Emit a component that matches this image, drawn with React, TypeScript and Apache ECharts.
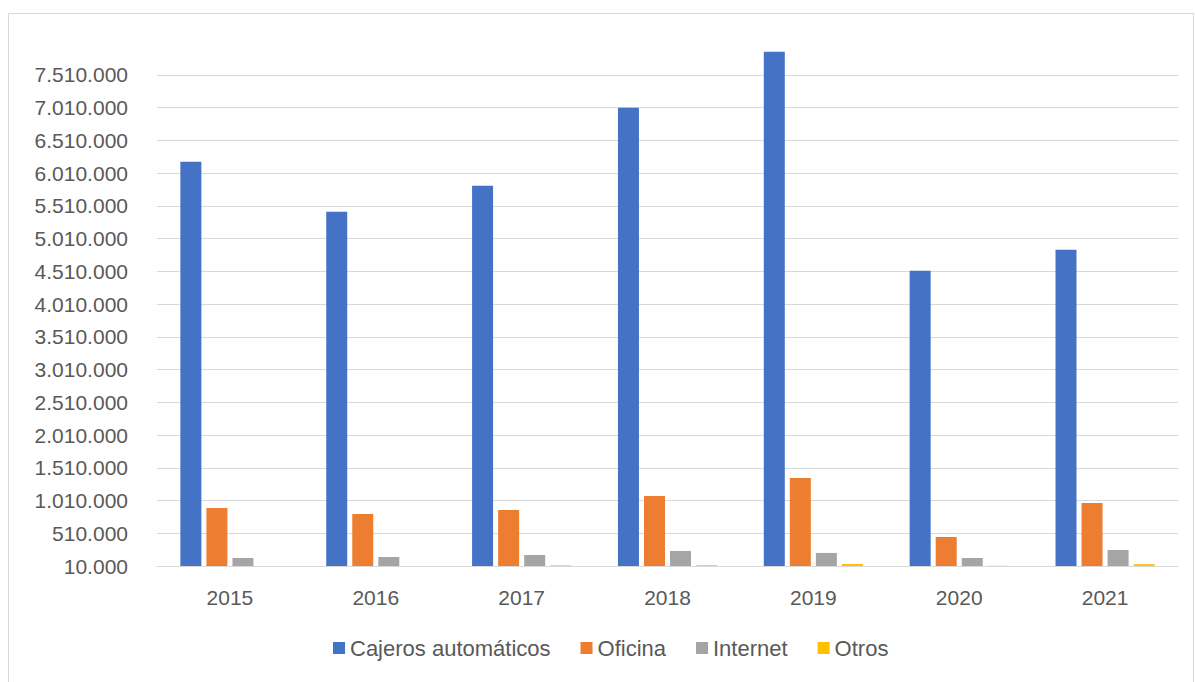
import React, { useEffect, useRef } from "react";
import * as echarts from "echarts";

const years = ["2015", "2016", "2017", "2018", "2019", "2020", "2021"];
const cajeros = [6180000, 5417000, 5815000, 7006000, 7861000, 4516000, 4837000];
const oficina = [896000, 804000, 865000, 1079000, 1354000, 453000, 972000];
const internet = [132000, 147000, 178000, 239000, 209000, 132000, 254000];
const otros = [5000, 6000, 20000, 22000, 40000, 14000, 38000];

const seriesNames = ["Cajeros automáticos", "Oficina", "Internet", "Otros"];
const colors = ["#4472C4", "#ED7D31", "#A5A5A5", "#FFC000"];

const fmt = (v: number) => String(Math.round(v)).replace(/\B(?=(\d{3})+(?!\d))/g, ".");

export default function App() {
  const ref = useRef<HTMLDivElement>(null);
  useEffect(() => {
    if (!ref.current) return;
    const chart = echarts.init(ref.current, null, { renderer: "svg" });
    const font = "'Liberation Sans', Arial, sans-serif";
    const dataSets = [cajeros, oficina, internet, otros];
    chart.setOption({
      animation: false,
      backgroundColor: "#ffffff",
      color: colors,
      textStyle: { fontFamily: font },
      graphic: [
        {
          type: "rect",
          shape: { x: 8.5, y: 13.5, width: 1185, height: 700 },
          style: { fill: "none", stroke: "#d9d9d9", lineWidth: 1 },
          silent: true,
        },
      ],
      grid: { left: 157, right: 17, top: 42, bottom: 116, containLabel: false },
      legend: {
        left: 328,
        top: 632,
        itemWidth: 12,
        itemHeight: 12,
        itemGap: 30,
        icon: "rect",
        textStyle: { color: "#595959", fontSize: 22, fontFamily: font },
        data: seriesNames,
      },
      xAxis: {
        type: "category",
        data: years,
        axisLine: { show: true, lineStyle: { color: "#d9d9d9", width: 1 } },
        axisTick: { show: false },
        axisLabel: { color: "#595959", fontSize: 21, fontFamily: font, margin: 21 },
      },
      yAxis: {
        type: "value",
        min: 10000,
        max: 8010000,
        interval: 500000,
        axisLine: { show: false },
        axisTick: { show: false },
        axisLabel: {
          color: "#595959",
          fontSize: 21,
          fontFamily: font,
          margin: 29,
          showMaxLabel: false,
          formatter: (v: number) => fmt(v),
        },
        splitLine: { show: true, showMaxLine: false, lineStyle: { color: "#d9d9d9", width: 1 } },
      },
      series: seriesNames.map((name, i) => ({
        name,
        type: "bar",
        data: dataSets[i],
        barWidth: 21,
        barGap: "24%",
        clip: true,
        itemStyle: { color: colors[i] },
      })),
    });
    return () => chart.dispose();
  }, []);
  return (
    <div
      ref={ref}
      style={{ position: "fixed", left: 0, top: 0, width: 1195, height: 682 }}
    />
  );
}
